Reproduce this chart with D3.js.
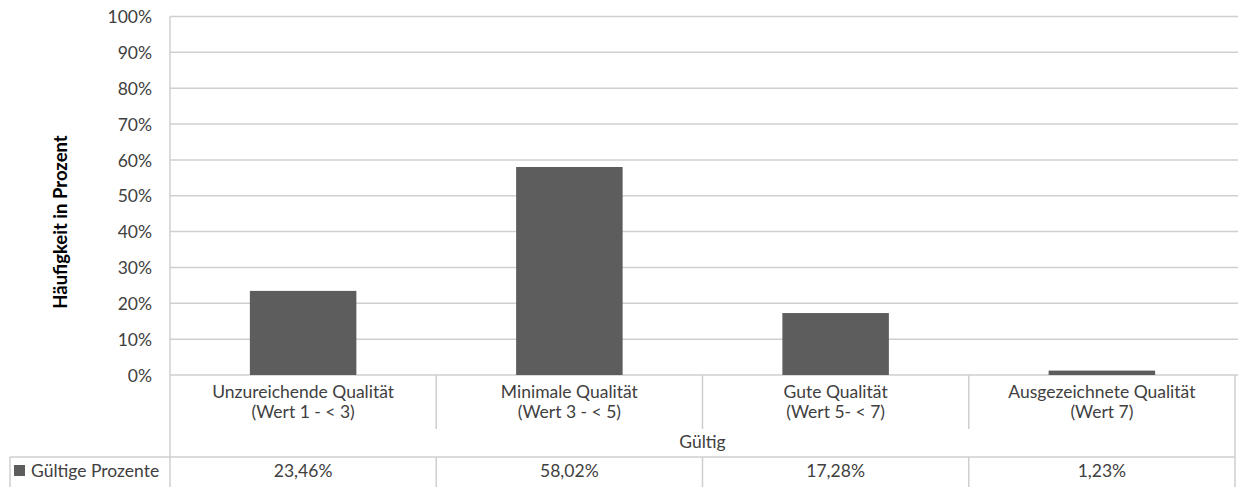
<!DOCTYPE html>
<html><head><meta charset="utf-8">
<script src="https://cdn.jsdelivr.net/npm/d3@7"></script>
<style>
html,body{margin:0;padding:0;background:#fff;}
svg{display:block;}
text{font-family:Lato,"Open Sans",sans-serif;fill:#404040;}
</style></head>
<body><svg id="c" width="1239" height="487"></svg>
<script>
const categoriesLine1 = ["Unzureichende Qualität","Minimale Qualität","Gute Qualität","Ausgezeichnete Qualität"];
const categoriesLine2 = ["(Wert 1 - < 3)","(Wert 3 - < 5)","(Wert 5- < 7)","(Wert 7)"];
const values = [23.46, 58.02, 17.28, 1.23];
const valueLabels = ["23,46%","58,02%","17,28%","1,23%"];
const yTicks = [0,10,20,30,40,50,60,70,80,90,100];
const groupLabel = "Gültig";
const seriesName = "Gültige Prozente";
const yTitle = "Häufigkeit in Prozent";

(function(){
const svg = d3.select("#c");
const left = 170, right = 1235, plotTop = 16.5, base = 375;
const x = d3.scaleBand().domain(d3.range(values.length)).range([left,right]).padding(0);
const y = d3.scaleLinear().domain([0,100]).range([base,plotTop]);
const gridC = "#cfcfcf";
const fs = "17.5px";

svg.append("g").selectAll("line").data(yTicks).join("line")
  .attr("x1",left).attr("x2",right+3).attr("y1",d=>y(d)).attr("y2",d=>y(d))
  .attr("stroke",gridC).attr("stroke-width",1.5);

const ya = svg.append("g").attr("transform",`translate(${left},0)`)
  .call(d3.axisLeft(y).tickValues(yTicks).tickFormat(d=>d+"%").tickSize(0).tickPadding(18));
ya.select(".domain").remove();
ya.selectAll("text").attr("font-family","Lato,sans-serif").attr("font-size","17.5").attr("fill","#404040").attr("dy","0.35em");

svg.append("line").attr("x1",left).attr("x2",left).attr("y1",plotTop).attr("y2",487).attr("stroke",gridC).attr("stroke-width",1.5);

const bw = x.bandwidth()*0.4;
svg.append("g").selectAll("rect").data(values).join("rect")
  .attr("x",(d,i)=>x(i)+x.bandwidth()/2-bw/2).attr("width",bw)
  .attr("y",d=>y(d)).attr("height",d=>base-y(d)).attr("fill","#5d5d5d");

const divs = d3.range(1,values.length).map(i=>x(i));
svg.append("g").selectAll("line").data(divs).join("line")
  .attr("x1",d=>d).attr("x2",d=>d).attr("y1",base).attr("y2",429).attr("stroke",gridC).attr("stroke-width",1.5);
svg.append("g").selectAll("line").data(divs).join("line")
  .attr("x1",d=>d).attr("x2",d=>d).attr("y1",457).attr("y2",487).attr("stroke",gridC).attr("stroke-width",1.5);
svg.append("line").attr("x1",right).attr("x2",right).attr("y1",base).attr("y2",487).attr("stroke",gridC).attr("stroke-width",1.5);
svg.append("line").attr("x1",10).attr("x2",right).attr("y1",457).attr("y2",457).attr("stroke",gridC).attr("stroke-width",1.5);
svg.append("line").attr("x1",10).attr("x2",10).attr("y1",457).attr("y2",487).attr("stroke",gridC).attr("stroke-width",1.5);

const cl = svg.append("g").selectAll("g").data(values).join("g")
  .attr("transform",(d,i)=>`translate(${x(i)+x.bandwidth()/2},0)`);
cl.append("text").attr("y",398).attr("text-anchor","middle").style("font-size",fs).text((d,i)=>categoriesLine1[i]);
cl.append("text").attr("y",418).attr("text-anchor","middle").style("font-size",fs).text((d,i)=>categoriesLine2[i]);

svg.append("text").attr("x",(left+right)/2).attr("y",448).attr("text-anchor","middle").style("font-size",fs).text(groupLabel);

svg.append("g").selectAll("text").data(valueLabels).join("text")
  .attr("x",(d,i)=>x(i)+x.bandwidth()/2).attr("y",477).attr("text-anchor","middle").style("font-size",fs).text(d=>d);

svg.append("rect").attr("x",14).attr("y",465).attr("width",11).attr("height",11).attr("fill","#5d5d5d");
svg.append("text").attr("x",31).attr("y",477).style("font-size",fs).text(seriesName);

svg.append("text").attr("transform","translate(67,222) rotate(-90)").attr("text-anchor","middle")
  .style("font-size","18.5px").style("font-weight","bold").style("fill","#000").text(yTitle);
})();
</script></body></html>
